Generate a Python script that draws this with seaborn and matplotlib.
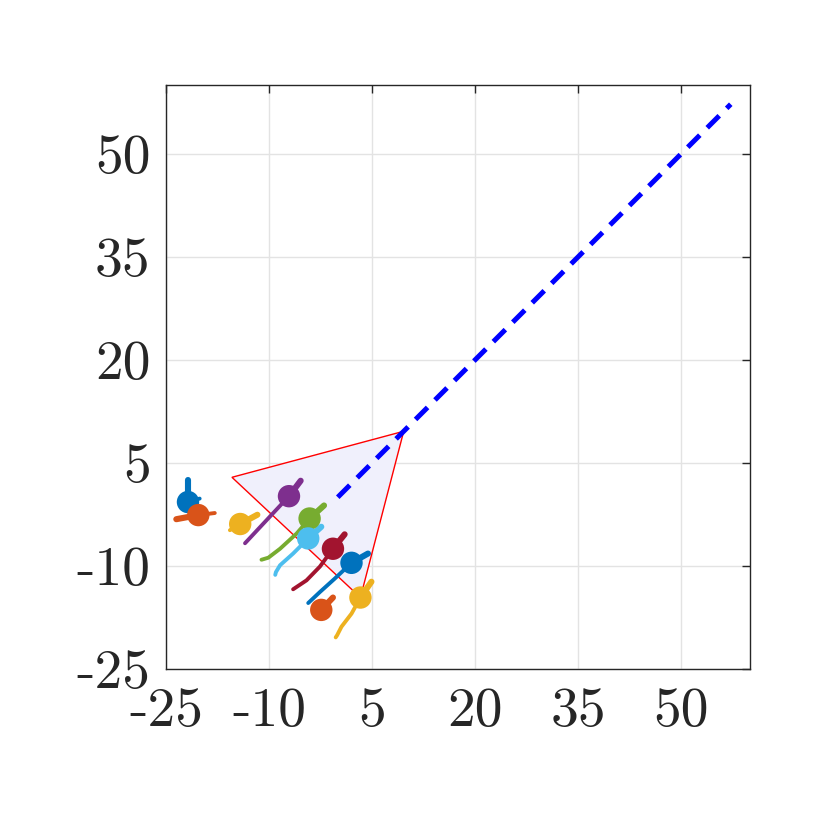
import seaborn as sns
import matplotlib.pyplot as plt
import pandas as pd

# Agent colours (MATLAB default order)
colors = ['#0072BD', '#D95319', '#EDB120', '#7E2F8E', '#77AC30',
          '#4DBEEE', '#A2142F', '#0072BD', '#D95319', '#EDB120']

# Agent positions
pos_x = [-21.8, -20.3, -14.2, -7.1, -4.1, -4.3, -0.7, 2.0, -2.4, 3.3]
pos_y = [-0.7, -2.6, -3.9, 0.15, -3.1, -6.0, -7.5, -9.55, -16.4, -14.6]

# Heading tips
nose_x = [-21.8, -23.5, -11.7, -5.4, -2.0, -2.4, 1.0, 4.4, -0.7, 4.9]
nose_y = [2.5, -3.2, -2.55, 2.4, -1.2, -4.3, -5.4, -8.2, -14.6, -12.3]

# Trails (history)
trail_x = [
    [-21.8, -20.1],
    [-20.3, -17.9],
    [-14.2, -15.7],
    [-7.1, -13.5],
    [-4.1, -6.0, -8.4, -10.1, -11.1],
    [-4.3, -6.5, -8.4, -9.0, -9.1],
    [-0.7, -2.6, -4.55, -6.5],
    [2.0, -0.44, -2.6, -4.3],
    [-2.4],
    [3.3, 2.0, 0.54, -0.1, -0.3],
]
trail_y = [
    [-0.7, -0.2],
    [-2.6, -2.3],
    [-3.9, -4.8],
    [0.15, -6.7],
    [-3.1, -5.3, -7.5, -8.8, -9.1],
    [-6.0, -8.2, -9.9, -10.9, -11.3],
    [-7.5, -10.1, -12.1, -13.4],
    [-9.55, -11.85, -13.8, -15.4],
    [-16.4],
    [-14.6, -16.95, -18.85, -20.1, -20.4],
]

# Region triangle and reference line
tri_x = [9.6, -15.4, 3.3]
tri_y = [9.6, 2.9, -14.6]
ref_x = [0, 57.2]
ref_y = [0, 57.2]

ticks = [-25, -10, 5, 20, 35, 50]

sns.set_style("white")
plt.rcParams['font.family'] = 'serif'
plt.rcParams['font.serif'] = ['cmr10', 'DejaVu Serif']
plt.rcParams['axes.unicode_minus'] = False
plt.rcParams['mathtext.fontset'] = 'cm'

rows = []
for i in range(len(trail_x)):
    for x, y in zip(trail_x[i], trail_y[i]):
        rows.append({'agent': i, 'x': x, 'y': y})
trails = pd.DataFrame(rows)
bodies = pd.DataFrame({'agent': range(len(pos_x)), 'x': pos_x, 'y': pos_y})
palette = {i: c for i, c in enumerate(colors)}

fig = plt.figure(figsize=(8.3, 8.3), dpi=100)
ax = fig.add_axes([0.2, 0.194, 0.7036, 0.7036])

ax.fill(tri_x, tri_y, facecolor='#f0f0fc', edgecolor='red', lw=1, zorder=1)
ax.plot(ref_x, ref_y, color='blue', lw=3.6, dashes=(3.4, 2.1), zorder=2)

sns.lineplot(data=trails, x='x', y='y', hue='agent', units='agent',
             estimator=None, sort=False, palette=palette, lw=2.8,
             legend=False, ax=ax, zorder=3, solid_capstyle='round')
for i in range(len(pos_x)):
    ax.plot([pos_x[i], nose_x[i]], [pos_y[i], nose_y[i]], color=colors[i],
            lw=4.4, solid_capstyle='round', zorder=4)
sns.scatterplot(data=bodies, x='x', y='y', hue='agent', palette=palette,
                s=260, edgecolor='none', legend=False, ax=ax, zorder=5)

ax.set_xlim(-25, 60)
ax.set_ylim(-25, 60)
ax.set_xticks(ticks)
ax.set_yticks(ticks)
ax.set_xticklabels([str(t) for t in ticks])
ax.set_yticklabels([str(t) for t in ticks])
ax.set_xlabel('')
ax.set_ylabel('')
ax.grid(True, color='#e3e3e3', lw=1)
ax.set_axisbelow(True)
ax.tick_params(direction='in', length=6, width=1, color='#262626',
               top=True, right=True, labelsize=40, labelcolor='#262626')
ax.tick_params(axis='x', pad=13)
ax.tick_params(axis='y', pad=11)
for s in ax.spines.values():
    s.set_color('#262626')
    s.set_linewidth(1)

fig.savefig('out.png', dpi=100)
